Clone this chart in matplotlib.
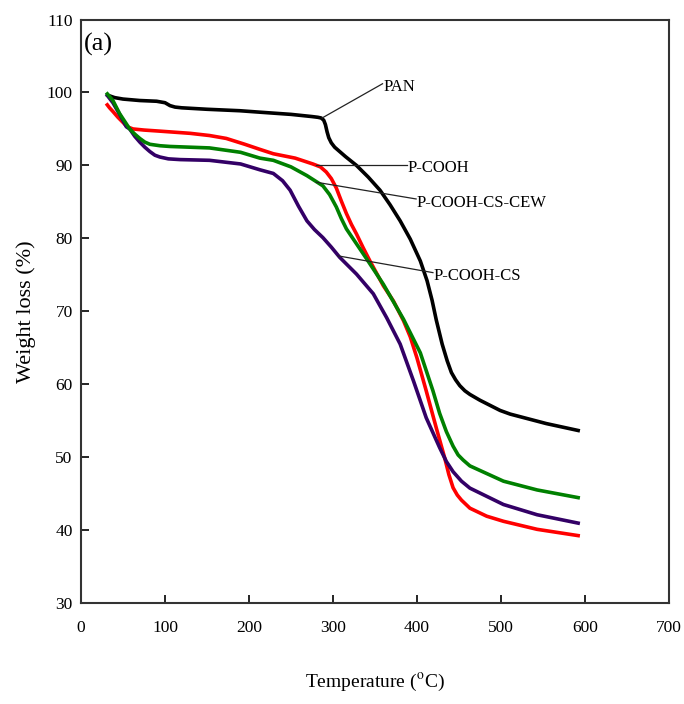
import matplotlib
matplotlib.use('Agg')
import matplotlib.pyplot as plt

# TGA curves (temperature in C, weight %)
t_pan = [30, 40, 50, 70, 90, 100, 106, 112, 120, 150, 189, 213, 250, 275, 282,
         286, 289, 291, 293, 295, 298, 302, 308, 315, 328, 342, 356, 368, 380,
         392, 404, 412, 418, 423, 430, 436, 441, 446, 451, 457, 463, 475, 499,
         511, 554, 594]
w_pan = [99.7, 99.3, 99.1, 98.9, 98.8, 98.6, 98.2, 98.0, 97.9, 97.7, 97.5, 97.3,
         97.0, 96.7, 96.6, 96.5, 96.2, 95.6, 94.6, 93.8, 93.1, 92.5, 91.9, 91.2,
         90.0, 88.4, 86.6, 84.6, 82.4, 79.9, 76.9, 74.2, 71.5, 68.8, 65.5, 63.2,
         61.6, 60.6, 59.8, 59.1, 58.6, 57.8, 56.4, 55.9, 54.6, 53.6]

t_cooh = [30, 34, 38, 44, 50, 55, 62, 75, 94, 130, 153, 173, 195, 213, 229, 255,
          276, 285, 292, 298, 304, 310, 316, 322, 328, 336, 344, 360, 372, 384,
          392, 400, 411, 423, 433, 438, 443, 448, 453, 463, 483, 503, 543, 594]
w_cooh = [98.5, 97.9, 97.4, 96.6, 95.9, 95.3, 95.0, 94.85, 94.7, 94.4, 94.1,
          93.7, 92.9, 92.2, 91.6, 91.0, 90.2, 89.8, 89.1, 88.2, 86.9, 85.1, 83.4,
          81.9, 80.6, 78.7, 76.9, 73.5, 71.4, 68.7, 66.5, 63.6, 59.1, 54.0, 49.9,
          47.6, 45.8, 44.8, 44.1, 43.0, 41.9, 41.2, 40.1, 39.2]

t_cs = [30, 38, 46, 54, 58, 64, 70, 76, 82, 88, 94, 104, 118, 153, 190, 213,
        229, 240, 249, 259, 269, 278, 288, 298, 308, 328, 348, 364, 380, 396,
        411, 427, 435, 443, 453, 463, 503, 543, 594]
w_cs = [99.8, 98.6, 97.0, 95.3, 95.0, 94.0, 93.2, 92.5, 91.9, 91.4, 91.15, 90.9,
        90.8, 90.7, 90.2, 89.4, 88.9, 87.9, 86.6, 84.4, 82.4, 81.2, 80.1, 78.8,
        77.4, 75.1, 72.4, 69.1, 65.5, 60.4, 55.4, 51.3, 49.4, 48.0, 46.7, 45.75,
        43.5, 42.1, 40.9]

t_cew = [30, 38, 46, 58, 64, 70, 76, 82, 94, 106, 153, 190, 213, 229, 250, 269,
         288, 296, 304, 310, 316, 340, 360, 384, 404, 419, 427, 435, 443, 449,
         455, 463, 503, 543, 594]
w_cew = [100.0, 98.9, 97.1, 95.0, 94.3, 93.7, 93.2, 92.9, 92.7, 92.6, 92.4,
         91.8, 91.0, 90.7, 89.8, 88.6, 87.2, 86.0, 84.3, 82.7, 81.3, 77.2, 73.7,
         68.9, 64.3, 59.1, 56.0, 53.5, 51.5, 50.3, 49.6, 48.8, 46.7, 45.5, 44.4]

labels = ['PAN', 'P-COOH', 'P-COOH-CS-CEW', 'P-COOH-CS']
# (curve point, text point) for the callouts
label_from = [(287, 96.5), (280, 90.1), (280, 87.7), (306, 77.6)]
label_to = [(359, 101.2), (388, 90.1), (399, 85.4), (419, 75.3)]

plt.rcParams['font.family'] = ['Liberation Serif', 'DejaVu Serif']
plt.rcParams['mathtext.fontset'] = 'stix'

fig = plt.figure(figsize=(6.84, 7.04), dpi=100)
ax = fig.add_axes([0.1184, 0.1435, 0.8596, 0.8287])

lw = 2.6
style = dict(lw=lw, solid_joinstyle='round', solid_capstyle='butt')
ax.plot(t_pan, w_pan, color='black', **style)
ax.plot(t_cooh, w_cooh, color='#ff0000', **style)
ax.plot(t_cs, w_cs, color='#330066', **style)
ax.plot(t_cew, w_cew, color='#008000', **style)

for lab, p0, p1 in zip(labels, label_from, label_to):
    ax.plot([p0[0], p1[0]], [p0[1], p1[1]], color='#222222', lw=0.9)
    ax.text(p1[0] + 1, p1[1] - 0.5, lab, fontsize=12, ha='left', va='center')

ax.text(3, 106.6, '(a)', fontsize=19, ha='left', va='center')

ax.set_xlim(0, 700)
ax.set_ylim(30, 110)
ax.set_xticks(range(0, 701, 100))
ax.set_yticks(range(30, 111, 10))
ax.tick_params(axis='x', direction='in', length=6, width=1.2, pad=12,
               labelsize=12.5)
ax.tick_params(axis='y', direction='in', length=6, width=1.2, pad=6,
               labelsize=12.5)
for s in ax.spines.values():
    s.set_linewidth(1.5)
    s.set_color('#333333')

ax.set_xlabel('Temperature ($^{\\rm o}$C)', fontsize=14, labelpad=26)
ax.set_ylabel('Weight loss (%)', fontsize=16, labelpad=8)

fig.savefig('out.png', dpi=100)
